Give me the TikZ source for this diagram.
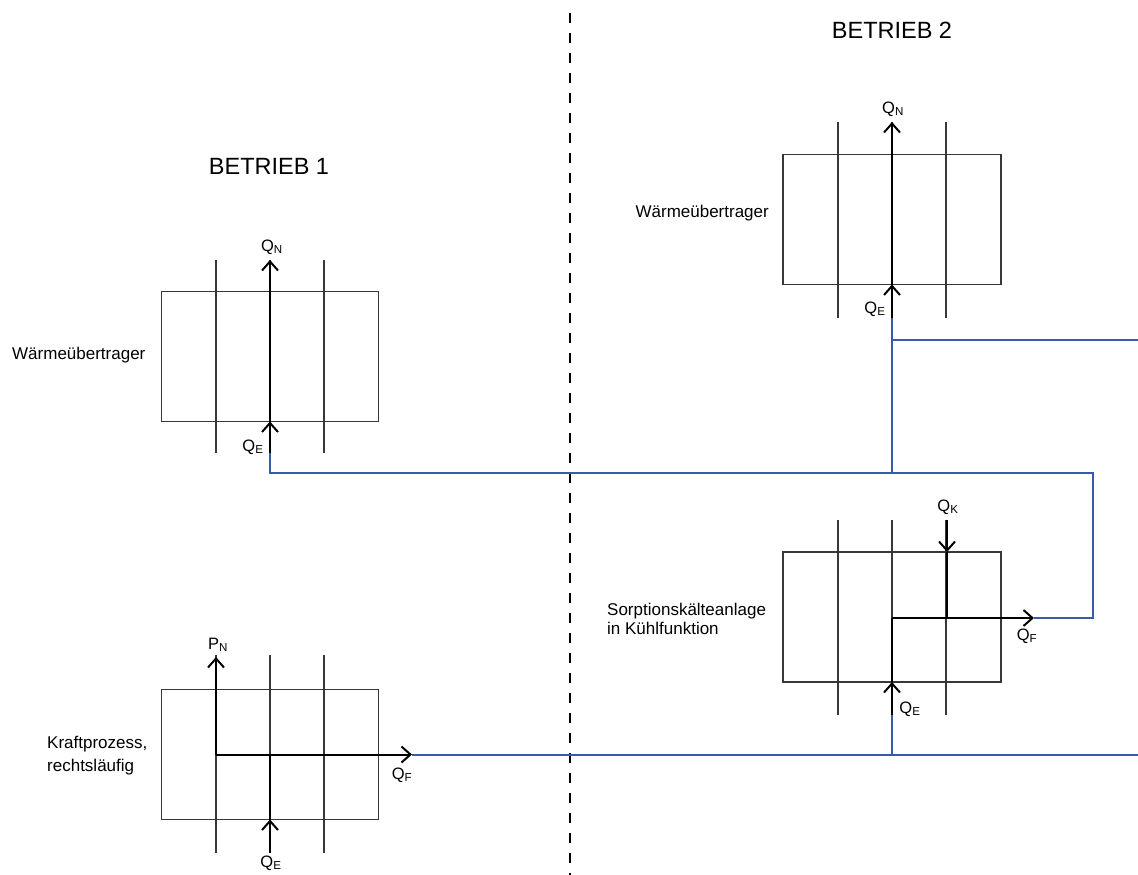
\documentclass[tikz,border=0pt]{standalone}
\usepackage{fontspec}
\setmainfont{Liberation Sans}
\usetikzlibrary{arrows.meta}
\definecolor{boxgray}{RGB}{55,55,55}
\definecolor{pipeblue}{RGB}{55,90,170}
\begin{document}
\begin{tikzpicture}[x=1pt,y=-1pt,
  box/.style={draw=boxgray, line width=1.1pt, minimum width=217pt, minimum height=130pt, inner sep=0pt},
  thinline/.style={draw=boxgray, line width=1.1pt},
  flow/.style={line width=2pt, -{Straight Barb[length=9pt,width=16pt]}},
  plainflow/.style={line width=2pt},
  pipe/.style={draw=pipeblue, line width=2pt},
  lbl/.style={font=\fontsize{17}{19}\selectfont, inner sep=0pt, align=left},
  lblb/.style={font=\fontsize{17}{23}\selectfont, inner sep=0pt, align=left},
  qlbl/.style={font=\fontsize{16.5}{18}\selectfont, inner sep=0pt},
  titlelbl/.style={font=\fontsize{23.5}{26}\selectfont, inner sep=0pt}
]
\useasboundingbox (0,0) rectangle (1138,875);

% separator
\draw[line width=2pt, dash pattern=on 10pt off 10pt] (570,13) -- (570,875);

% titles
\node[titlelbl] (t1) at (269,166) {BETRIEB 1};
\node[titlelbl] (t2) at (892,30) {BETRIEB 2};

% boxes
\node[box] (b1) at (270,356.5) {};
\node[box] (b2) at (270,754.5) {};
\node[box, minimum width=218pt] (b3) at (892,219.5) {};
\node[box, minimum width=218pt] (b4) at (892,617) {};

% vertical lines
\foreach \x in {216,270,324}{
  \draw[thinline] (\x,260) -- (\x,453);
  \draw[thinline] (\x,655) -- (\x,853);
}
\foreach \x in {838,892,946}{
  \draw[thinline] (\x,122) -- (\x,318);
  \draw[thinline] (\x,520) -- (\x,715);
}

% box labels
\node[lbl, anchor=west] (l1) at (12,355) {Wärmeübertrager};
\node[lbl, anchor=east] (l3) at (769,213) {Wärmeübertrager};
\node[lbl, anchor=west] (l4) at (607,619) {Sorptionskälteanlage\\in Kühlfunktion};
\node[lblb, anchor=west] (l2) at (47,756) {Kraftprozess,\\rechtsläufig};

% coordinates
\coordinate (b1in) at (270,453);
\coordinate (b1bot) at (270,421.5);
\coordinate (b1out) at (270,260);
\coordinate (b2c) at (216,754.5);
\coordinate (b2p) at (216,657);
\coordinate (b2f) at (412,754.5);
\coordinate (b2in) at (270,853);
\coordinate (b2bot) at (270,819.5);
\coordinate (b2e) at (270,754.5);
\coordinate (b3in) at (892,318);
\coordinate (b3bot) at (892,284.5);
\coordinate (b3out) at (892,122);
\coordinate (b4kin) at (947,520);
\coordinate (b4top) at (947,552);
\coordinate (b4k) at (947,618);
\coordinate (b4c) at (892,618);
\coordinate (b4f) at (1034,618);
\coordinate (b4in) at (892,715);
\coordinate (b4bot) at (892,682);

% flows
\draw[flow] (b1in) -- (b1bot);
\draw[flow] (b1bot) -- (b1out);
\draw[flow] (b2c) -- (b2p);
\draw[flow] (b2c) -- (b2f);
\draw[flow] (b2in) -- (b2bot);
\draw[plainflow] (b2bot) -- (b2e);
\draw[flow] (b3in) -- (b3bot);
\draw[flow] (b3bot) -- (b3out);
\draw[flow] (b4kin) -- (b4top);
\draw[plainflow] (b4top) -- (b4k);
\draw[flow] (b4c) -- (b4f);
\draw[flow] (b4in) -- (b4bot);
\draw[plainflow] (b4bot) -- (b4c);

% flow labels
\node[qlbl] (q1n) at (272,247) {Q\textsubscript{N}};
\node[qlbl] (q1e) at (253,447) {Q\textsubscript{E}};
\node[qlbl] (p2n) at (218,645) {P\textsubscript{N}};
\node[qlbl] (q2f) at (402,775) {Q\textsubscript{F}};
\node[qlbl] (q2e) at (271,863) {Q\textsubscript{E}};
\node[qlbl] (q3n) at (893,109) {Q\textsubscript{N}};
\node[qlbl] (q3e) at (875,309) {Q\textsubscript{E}};
\node[qlbl] (q4k) at (948,507) {Q\textsubscript{K}};
\node[qlbl] (q4f) at (1027,636) {Q\textsubscript{F}};
\node[qlbl] (q4e) at (910,709) {Q\textsubscript{E}};

% pipes
\coordinate (j1) at (270,473);
\coordinate (j2) at (892,473);
\coordinate (j3) at (1093,473);
\coordinate (j4) at (1093,618);
\coordinate (j5) at (892,340);
\coordinate (e1) at (1138,340);
\coordinate (e2) at (1138,754.5);
\coordinate (j6) at (892,754.5);
\draw[pipe] (b1in) -- (j1) -- (j3) -- (j4) -- (b4f);
\draw[pipe] (j2) -- (b3in);
\draw[pipe] (j5) -- (e1);
\draw[pipe] (b2f) -- (e2);
\draw[pipe] (j6) -- (b4in);
\end{tikzpicture}
\end{document}
